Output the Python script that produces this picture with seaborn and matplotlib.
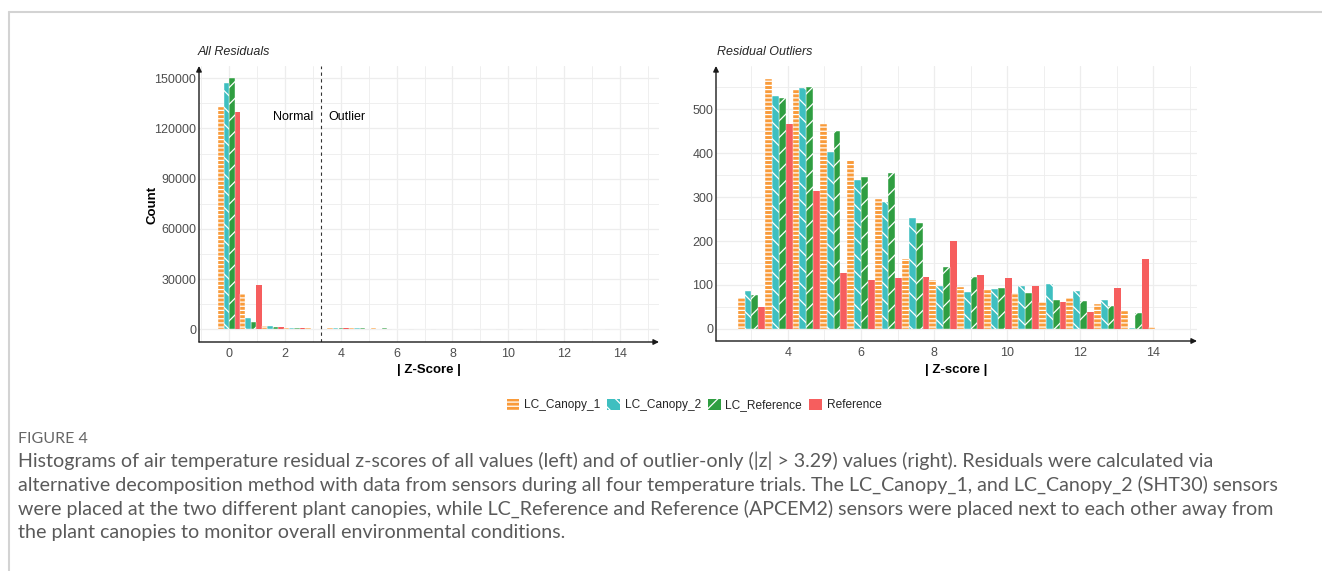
import numpy as np
import pandas as pd
import matplotlib
matplotlib.use("Agg")
import matplotlib.pyplot as plt
from matplotlib.patches import Patch
from matplotlib.lines import Line2D
from matplotlib.colors import to_hex
from matplotlib.ticker import MultipleLocator
import seaborn as sns

# ---------------------------------------------------------------- data
sensors = ["LC_Canopy_1", "LC_Canopy_2", "LC_Reference", "Reference"]
sensor_colors = ["#F99B3A", "#3EBFC0", "#2F9E41", "#F65E5E"]
sensor_hatches = ["----", "\\\\", "//", ""]

# all residuals: |z| bin centres and counts per sensor
all_bin_centers = [0.0, 0.78, 1.56, 2.34, 3.12, 3.9, 4.68, 5.46, 6.24, 7.02,
                   7.8, 8.58, 9.36, 10.14, 10.92, 11.7, 12.48, 13.26, 14.04]
all_lc_canopy_1 = [133000, 21000, 2000, 900, 500, 800, 700, 500, 350, 200,
                   130, 110, 100, 90, 80, 70, 60, 50, 10]
all_lc_canopy_2 = [147000, 7000, 1800, 800, 450, 750, 650, 450, 350, 300,
                   140, 100, 100, 110, 90, 80, 60, 20, 5]
all_lc_reference = [150000, 4500, 1500, 700, 400, 700, 700, 500, 450, 300,
                    170, 130, 110, 90, 80, 70, 50, 40, 5]
all_reference = [130000, 26500, 1200, 500, 300, 600, 300, 150, 140, 130,
                 200, 150, 130, 120, 70, 50, 90, 150, 5]

# residual outliers (|z| > 3.29): bin centres and counts per sensor
out_bin_centers = [3.0, 3.75, 4.5, 5.25, 6.0, 6.75, 7.5, 8.25, 9.0, 9.75,
                   10.5, 11.25, 12.0, 12.75, 13.5, 14.25]
out_lc_canopy_1 = [71, 570, 547, 467, 385, 296, 159, 112, 94, 91, 81, 62, 71, 56, 40, 3]
out_lc_canopy_2 = [85, 530, 548, 402, 339, 290, 253, 97, 84, 90, 98, 103, 86, 65, 2, 0]
out_lc_reference = [78, 525, 550, 451, 345, 356, 240, 141, 119, 93, 81, 65, 64, 52, 36, 0]
out_reference = [49, 467, 314, 126, 110, 116, 119, 201, 122, 115, 97, 62, 38, 93, 160, 0]

caption_title = "FIGURE 4"
caption_lines = [
    "Histograms of air temperature residual z-scores of all values (left) and of outlier-only (|z| > 3.29) values (right). Residuals were calculated via",
    "alternative decomposition method with data from sensors during all four temperature trials. The LC_Canopy_1, and LC_Canopy_2 (SHT30) sensors",
    "were placed at the two different plant canopies, while LC_Reference and Reference (APCEM2) sensors were placed next to each other away from",
    "the plant canopies to monitor overall environmental conditions.",
]


def long_table(centers, series):
    rows = []
    for name, counts in zip(sensors, series):
        for c, n in zip(centers, counts):
            rows.append({"z": c, "count": n, "sensor": name})
    return pd.DataFrame(rows)


df_all = long_table(all_bin_centers,
                    [all_lc_canopy_1, all_lc_canopy_2, all_lc_reference, all_reference])
df_out = long_table(out_bin_centers,
                    [out_lc_canopy_1, out_lc_canopy_2, out_lc_reference, out_reference])

# ---------------------------------------------------------------- style
sns.set_theme(style="white")
plt.rcParams["font.family"] = ["Liberation Sans", "DejaVu Sans"]
plt.rcParams["hatch.linewidth"] = 0.9

W, H = 1322, 571
fig = plt.figure(figsize=(W / 100, H / 100), dpi=100)


def px_axes(x0, y0, x1, y1):
    return fig.add_axes([x0 / W, 1 - y1 / H, (x1 - x0) / W, (y1 - y0) / H])


palette = dict(zip(sensors, sensor_colors))
hatch_for = {to_hex(c): h for c, h in zip(sensor_colors, sensor_hatches)}

TICK_COLOR = "#4D4D4D"
GRID_COLOR = "#EDEDED"


def draw_panel(ax, df, centers, xlim, ylim, xmaj, xmin, ymaj, ymin):
    width = centers[1] - centers[0]
    lo = centers[0] - width / 2
    hi = centers[-1] + width / 2
    sns.histplot(data=df, x="z", weights="count", hue="sensor",
                 hue_order=sensors, palette=palette, binwidth=width,
                 binrange=(lo, hi), multiple="dodge", shrink=1, alpha=1,
                 legend=False, ax=ax, edgecolor="white", linewidth=0.3)
    for p in ax.patches:
        h = hatch_for.get(to_hex(p.get_facecolor()), "")
        p.set_hatch(h)
        p.set_edgecolor("white")
        if h == "":
            p.set_linewidth(0)
    ax.set_xlim(*xlim)
    ax.set_ylim(*ylim)
    ax.xaxis.set_major_locator(MultipleLocator(xmaj))
    ax.xaxis.set_minor_locator(MultipleLocator(xmin))
    ax.yaxis.set_major_locator(MultipleLocator(ymaj))
    ax.yaxis.set_minor_locator(MultipleLocator(ymin))
    ax.grid(which="major", color=GRID_COLOR, lw=0.9)
    ax.grid(which="minor", color=GRID_COLOR, lw=0.6)
    ax.set_axisbelow(True)
    for s in ax.spines.values():
        s.set_visible(False)
    ax.tick_params(which="both", length=0, labelsize=9, colors=TICK_COLOR)
    ax.tick_params(axis="y", pad=2)
    ax.tick_params(axis="x", pad=4)
    ax.set_ylabel("")
    ax.set_xlabel("")
    arrow = dict(arrowstyle="-|>", lw=1.0, color="#1A1A1A",
                 mutation_scale=8, shrinkA=0, shrinkB=0)
    ax.annotate("", xy=(0, 1.0), xytext=(0, 0), xycoords="axes fraction",
                arrowprops=arrow, annotation_clip=False)
    ax.annotate("", xy=(1.0, 0), xytext=(0, 0), xycoords="axes fraction",
                arrowprops=arrow, annotation_clip=False)


# left panel: all residuals
ax1 = px_axes(199, 66, 659, 342)
draw_panel(ax1, df_all, all_bin_centers, (-1.08, 15.4), (-7600, 157300),
           2, 1, 30000, 15000)
ax1.axvline(3.29, color="#333333", lw=0.8, ls=(0, (3, 3)))
ax1.text(3.03, 127000, "Normal", ha="right", va="center", fontsize=9, color="black")
ax1.text(3.57, 127000, "Outlier", ha="left", va="center", fontsize=9, color="black")
ax1.text(-0.004, 1.05, "All Residuals", transform=ax1.transAxes, ha="left",
         va="center", fontsize=9, style="italic")
ax1.set_ylabel("Count", fontsize=9.5, fontweight="bold", color="black")
ax1.yaxis.set_label_coords(-0.1, 0.496)
ax1.yaxis.label.set_va("center")
ax1.set_xlabel("| Z-Score |", fontsize=9.5, fontweight="bold", color="black")
ax1.xaxis.set_label_coords(0.5, -0.101)
ax1.xaxis.label.set_va("center")

# right panel: residual outliers
ax2 = px_axes(716, 66, 1197, 341)
draw_panel(ax2, df_out, out_bin_centers, (2.03, 15.2), (-28, 599),
           2, 1, 100, 50)
ax2.text(0.002, 1.05, "Residual Outliers", transform=ax2.transAxes, ha="left",
         va="center", fontsize=9, style="italic")
ax2.set_xlabel("| Z-score |", fontsize=9.5, fontweight="bold", color="black")
ax2.xaxis.set_label_coords(0.5, -0.105)
ax2.xaxis.label.set_va("center")

# shared legend
handles = [Patch(facecolor=c, edgecolor="white", hatch=h, lw=0)
           for c, h in zip(sensor_colors, sensor_hatches)]
fig.legend(handles, sensors, loc="center", bbox_to_anchor=(694 / W, 1 - 405 / H),
           ncol=4, frameon=False, fontsize=8.6, handlelength=1.05, handleheight=1.05,
           handletextpad=0.4, columnspacing=0.6)

# page frame
frame_col = "#D3D3D3"
fig.add_artist(Line2D([9 / W, 1], [1 - 12 / H, 1 - 12 / H], color=frame_col, lw=1.5,
                      transform=fig.transFigure))
fig.add_artist(Line2D([9 / W, 9 / W], [0, 1 - 12 / H], color=frame_col, lw=1.5,
                      transform=fig.transFigure))

# caption
cap_font = ["Lato", "DejaVu Sans"]
fig.text(18 / W, 1 - 443 / H, caption_title, family=cap_font, fontsize=11.5,
         color="#666666", va="baseline", ha="left")
for i, line in enumerate(caption_lines):
    fig.text(18 / W, 1 - (467 + 23.7 * i) / H, line, family=cap_font, fontsize=14.1,
             color="#5A5A5A", va="baseline", ha="left")

fig.savefig("out.png", dpi=100)
